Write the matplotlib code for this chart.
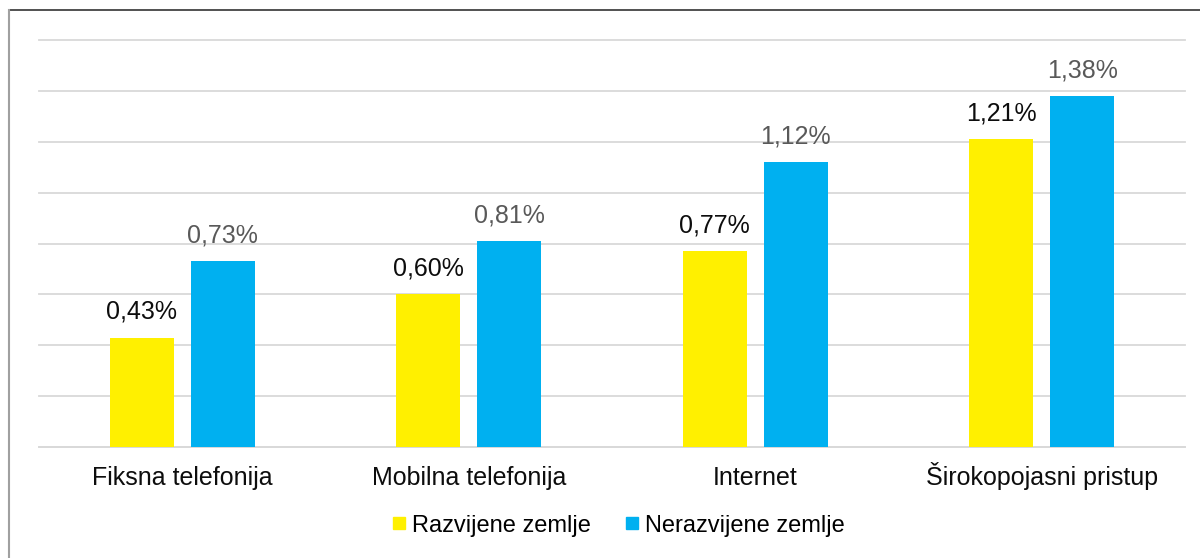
import matplotlib.pyplot as plt
import numpy as np
from matplotlib.lines import Line2D

plt.rcParams["font.family"] = ["Liberation Sans", "DejaVu Sans"]

categories = ["Fiksna telefonija", "Mobilna telefonija", "Internet", "Širokopojasni pristup"]
razvijene = [0.43, 0.60, 0.77, 1.21]
nerazvijene = [0.73, 0.81, 1.12, 1.38]
series_names = ["Razvijene zemlje", "Nerazvijene zemlje"]

yellow = "#FFF000"
blue = "#00B0F0"

fig = plt.figure(figsize=(12, 5.58), dpi=100)
ax = fig.add_axes([0.0325, 0.199, 0.955, 0.729])

x = np.arange(len(categories))
w = 0.223
off = 0.141
b1 = ax.bar(x - off, razvijene, w, color=yellow, zorder=3)
b2 = ax.bar(x + off, nerazvijene, w, color=blue, zorder=3)


def fmt(v):
    return f"{v:.2f}%".replace(".", ",")


for rect, v in zip(b1, razvijene):
    ax.annotate(fmt(v), (rect.get_x() + rect.get_width() / 2, v),
                xytext=(0, 10), textcoords="offset points",
                ha="center", va="bottom", fontsize=18, color="#0d0d0d")
for rect, v in zip(b2, nerazvijene):
    ax.annotate(fmt(v), (rect.get_x() + rect.get_width() / 2, v),
                xytext=(0, 10), textcoords="offset points",
                ha="center", va="bottom", fontsize=18, color="#595959")

ax.set_xlim(-0.5, len(categories) - 0.5)
ax.set_ylim(0, 1.6)
ax.set_yticks(np.arange(0, 1.61, 0.2))
ax.yaxis.grid(True, color="#d9d9d9", lw=1.3, zorder=0)
for gl in ax.get_ygridlines():
    gl.set_clip_on(False)
ax.set_yticklabels([])
ax.tick_params(axis="y", length=0)
ax.set_xticks(x)
ax.set_xticklabels(categories, fontsize=18, color="#0d0d0d")
ax.tick_params(axis="x", length=0, pad=27.5)
for lab in ax.get_xticklabels():
    lab.set_va("baseline")
for s in ["top", "right", "left"]:
    ax.spines[s].set_visible(False)
ax.spines["bottom"].set_color("#d9d9d9")
ax.spines["bottom"].set_linewidth(1.3)

handles = [Line2D([], [], marker="s", ls="", color=c, markersize=9)
           for c in (yellow, blue)]
fig.legend(handles, series_names, loc="center", bbox_to_anchor=(0.513, 0.058),
           ncol=2, frameon=False, fontsize=17, handletextpad=0.05,
           columnspacing=1.25, handlelength=1.0)

# border lines of the original frame
fig.add_artist(Line2D([0.0075, 1.0], [1 - 10 / 558, 1 - 10 / 558], color="#333333", lw=1.2))
fig.add_artist(Line2D([0.0075, 0.0075], [0, 1 - 10 / 558], color="#a0a0a0", lw=1.5))

fig.savefig("out.png", dpi=100)
